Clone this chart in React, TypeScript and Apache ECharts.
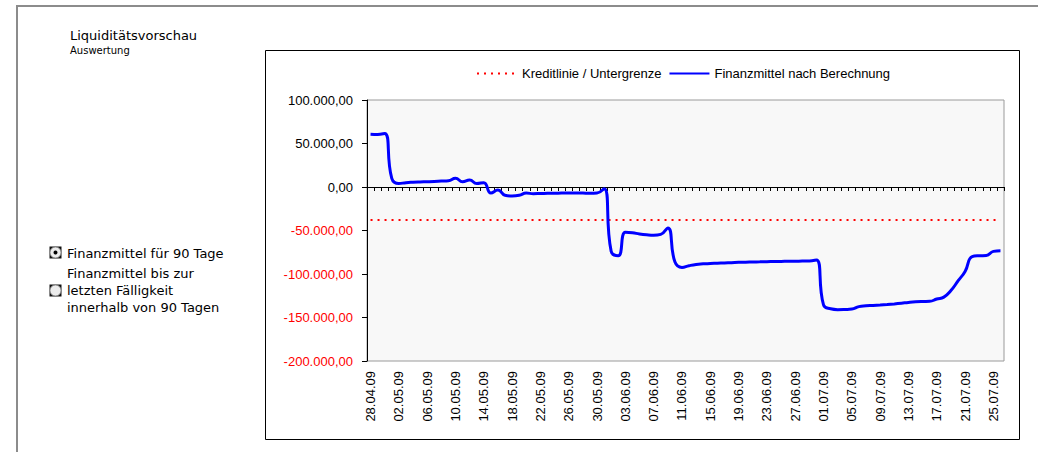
import React, { useEffect, useRef } from "react";
import * as echarts from "echarts";

const categories: string[] = [
  "28.04.09", "29.04.09", "30.04.09",
  "01.05.09", "02.05.09", "03.05.09", "04.05.09", "05.05.09", "06.05.09", "07.05.09", "08.05.09", "09.05.09", "10.05.09",
  "11.05.09", "12.05.09", "13.05.09", "14.05.09", "15.05.09", "16.05.09", "17.05.09", "18.05.09", "19.05.09", "20.05.09",
  "21.05.09", "22.05.09", "23.05.09", "24.05.09", "25.05.09", "26.05.09", "27.05.09", "28.05.09", "29.05.09", "30.05.09", "31.05.09",
  "01.06.09", "02.06.09", "03.06.09", "04.06.09", "05.06.09", "06.06.09", "07.06.09", "08.06.09", "09.06.09", "10.06.09",
  "11.06.09", "12.06.09", "13.06.09", "14.06.09", "15.06.09", "16.06.09", "17.06.09", "18.06.09", "19.06.09", "20.06.09",
  "21.06.09", "22.06.09", "23.06.09", "24.06.09", "25.06.09", "26.06.09", "27.06.09", "28.06.09", "29.06.09", "30.06.09",
  "01.07.09", "02.07.09", "03.07.09", "04.07.09", "05.07.09", "06.07.09", "07.07.09", "08.07.09", "09.07.09", "10.07.09",
  "11.07.09", "12.07.09", "13.07.09", "14.07.09", "15.07.09", "16.07.09", "17.07.09", "18.07.09", "19.07.09", "20.07.09",
  "21.07.09", "22.07.09", "23.07.09", "24.07.09", "25.07.09", "26.07.09",
];

const finanzmittel: number[] = [
  60500, 60300, 61500, 10000, 4000, 5000, 5500, 5800, 6000, 6300,
  6800, 7200, 10000, 6000, 8000, 4000, 5000, -7000, -3500, -9500,
  -10300, -9500, -7000, -7700, -7500, -7300, -7200, -7000, -7000, -6800,
  -7000, -7200, -7000, -2000, -74000, -79000, -52000, -52500, -54000, -55000,
  -55500, -54500, -47000, -86000, -92500, -90500, -89000, -88300, -87800, -87600,
  -87300, -87000, -86600, -86500, -86200, -86000, -85800, -85600, -85500, -85400,
  -85300, -85200, -85100, -84000, -135500, -140000, -141000, -140800, -140300, -137500,
  -136600, -136200, -135700, -135100, -134400, -133600, -132700, -132000, -131600, -131400,
  -128800, -126600, -119000, -108000, -97000, -80000, -79000, -78800, -74000, -73200,
];

const kreditlinieValue = -38000;
const kreditlinie: number[] = categories.map(() => kreditlinieValue);

const seriesNames = ["Kreditlinie / Untergrenze", "Finanzmittel nach Berechnung"];
const yMin = -200000;
const yMax = 100000;
const yInterval = 50000;

const titleText = "Liquiditätsvorschau";
const subtitleText = "Auswertung";
const option1Text = "Finanzmittel für 90 Tage";
const option2Text = "Finanzmittel bis zur\nletzten Fälligkeit\ninnerhalb von 90 Tagen";

function fmtDe(v: number): string {
  const neg = v < 0;
  const s = Math.abs(v).toFixed(2);
  const parts = s.split(".");
  const intPart = parts[0].replace(/\B(?=(\d{3})+(?!\d))/g, ".");
  return (neg ? "-" : "") + intPart + "," + parts[1];
}

const AX_FONT = "'Liberation Sans', Arial, sans-serif";
const UI_FONT = "'DejaVu Sans', Verdana, sans-serif";

function radio(x: number, y: number, checked: boolean): any {
  const children: any[] = [
    { type: "rect", shape: { x: 0, y: 0, width: 12, height: 12 }, style: { fill: "#111" } },
    { type: "circle", shape: { cx: 6, cy: 6, r: 5.5 }, style: { fill: "#ececec", stroke: "#8a8a8a", lineWidth: 1 } },
  ];
  if (checked) {
    children.push({ type: "circle", shape: { cx: 6, cy: 6, r: 2 }, style: { fill: "#000" } });
  }
  return { type: "group", x, y, children };
}

export default function App() {
  const ref = useRef<HTMLDivElement>(null);
  useEffect(() => {
    if (!ref.current) return;
    const chart = echarts.init(ref.current, undefined, { renderer: "svg" });
    chart.setOption({
      animation: false,
      backgroundColor: "#ffffff",
      grid: {
        left: 367,
        top: 100,
        right: 34,
        bottom: 91,
        show: true,
        backgroundColor: "#f8f8f8",
        borderColor: "#9a9a9a",
        borderWidth: 1,
        containLabel: false,
      },
      legend: {
        left: 471,
        top: 62,
        itemWidth: 40,
        itemHeight: 14,
        itemGap: 7,
        itemStyle: { opacity: 0 },
        textStyle: { fontSize: 13, fontFamily: AX_FONT, color: "#000" },
        data: seriesNames,
      },
      xAxis: [
        {
          type: "category",
          data: categories,
          position: "bottom",
          boundaryGap: true,
          axisLine: { show: false, onZero: false },
          axisTick: { show: false },
          splitLine: { show: false },
          axisLabel: {
            rotate: 90,
            interval: 3,
            margin: 10,
            fontSize: 13,
            fontFamily: AX_FONT,
            color: "#000",
          },
        },
        {
          type: "category",
          data: categories,
          position: "bottom",
          boundaryGap: true,
          axisLine: { show: true, onZero: true, lineStyle: { color: "#000", width: 1 } },
          axisTick: { show: true, interval: 0, length: 4, inside: false, lineStyle: { color: "#000", width: 1 } },
          axisLabel: { show: false },
          splitLine: { show: false },
        },
      ],
      yAxis: {
        type: "value",
        min: yMin,
        max: yMax,
        interval: yInterval,
        axisLine: { show: true, onZero: false, lineStyle: { color: "#000", width: 1 } },
        axisTick: { show: true, length: 5, inside: false, lineStyle: { color: "#000" } },
        splitLine: { show: false },
        axisLabel: {
          margin: 14,
          fontSize: 13,
          fontFamily: AX_FONT,
          formatter: (v: number) => fmtDe(v),
          color: (v: any) => (Number(v) < 0 ? "#ff0000" : "#000000"),
        },
      },
      series: [
        {
          name: seriesNames[0],
          type: "line",
          xAxisIndex: 0,
          data: kreditlinie,
          symbol: "none",
          showSymbol: false,
          lineStyle: { color: "#ff0000", width: 2, type: [2, 5] },
          itemStyle: { color: "#ff0000" },
          z: 3,
        },
        {
          name: seriesNames[1],
          type: "line",
          xAxisIndex: 0,
          data: finanzmittel,
          symbol: "none",
          showSymbol: false,
          smooth: 0.5,
          lineStyle: { color: "#0000ff", width: 3 },
          itemStyle: { color: "#0000ff" },
          z: 4,
        },
      ],
      graphic: [
        {
          type: "polyline",
          shape: { points: [[17, 452], [17, 6], [1038, 6]] },
          style: { fill: "none", stroke: "#8c8c8c", lineWidth: 2 },
          silent: true,
        },
        {
          type: "rect",
          shape: { x: 265.5, y: 50.5, width: 754, height: 389 },
          style: { fill: "none", stroke: "#000", lineWidth: 1 },
          silent: true,
        },
        {
          type: "text",
          x: 70,
          y: 35,
          style: { text: titleText, fontSize: 13, fontFamily: UI_FONT, fill: "#000", verticalAlign: "middle", align: "left" },
        },
        {
          type: "text",
          x: 70,
          y: 50,
          style: { text: subtitleText, fontSize: 10, fontFamily: UI_FONT, fill: "#000", verticalAlign: "middle", align: "left" },
        },
        radio(49.5, 246.5, true),
        {
          type: "text",
          x: 67,
          y: 253,
          style: { text: option1Text, fontSize: 13, fontFamily: UI_FONT, fill: "#000", verticalAlign: "middle", align: "left" },
        },
        radio(49.5, 284.5, false),
        {
          type: "text",
          x: 67,
          y: 290,
          style: {
            text: option2Text,
            fontSize: 13,
            lineHeight: 17,
            fontFamily: UI_FONT,
            fill: "#000",
            verticalAlign: "middle",
            align: "left",
          },
        },
      ],
    });
    return () => chart.dispose();
  }, []);
  return (
    <div
      ref={ref}
      style={{ position: "fixed", left: 0, top: 0, width: 1038, height: 452, background: "#fff" }}
    />
  );
}
